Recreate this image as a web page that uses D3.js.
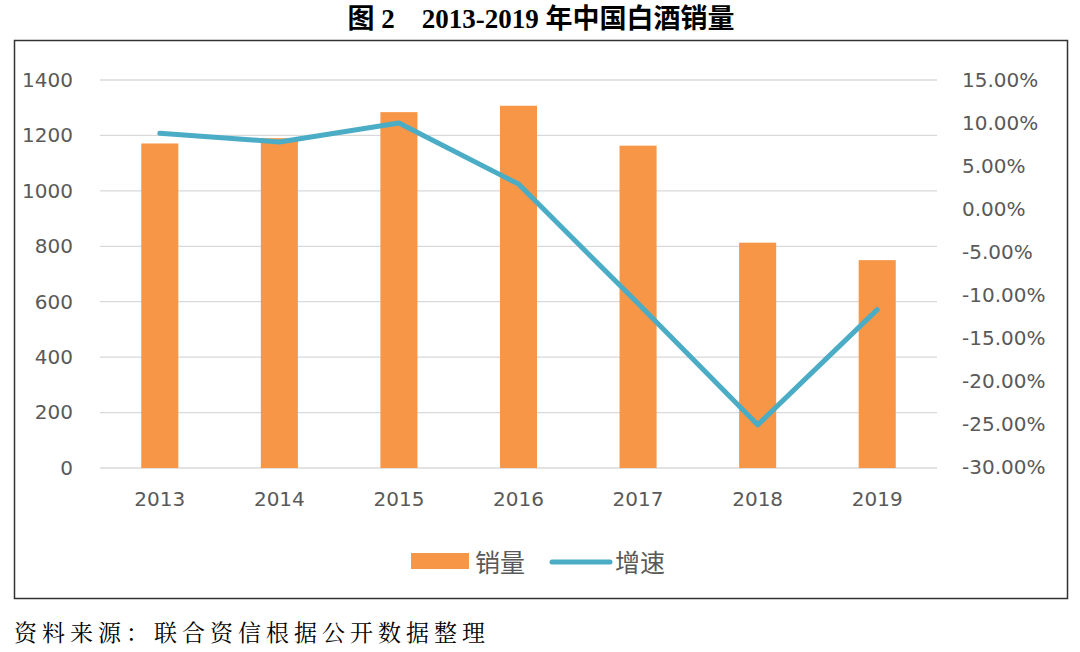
<!DOCTYPE html>
<html>
<head>
<meta charset="utf-8">
<script src="https://cdn.jsdelivr.net/npm/d3@7"></script>
<style>
  html, body { margin: 0; padding: 0; background: #fff; }
  svg { display: block; }
</style>
</head>
<body>
<div id="chart"></div>
<script>
// 2013-2019 中国白酒销量 — bars (销量) + line (增速, right axis)

const years = ["2013", "2014", "2015", "2016", "2017", "2018", "2019"];
const sales = [1171, 1190, 1284, 1307, 1163, 813, 750];
const growth = [8.8, 7.8, 10.0, 2.9, -11.0, -25.1, -11.7];   // %
const leftTicks = [0, 200, 400, 600, 800, 1000, 1200, 1400];
const rightTicks = [15, 10, 5, 0, -5, -10, -15, -20, -25, -30];

const W = 1080, H = 652;
const plot = { left: 100, right: 937, top: 80, bottom: 468 };

const barColor = '#F79646';
const lineColor = '#4BACC6';
const textGray = '#595959';
const numFont = '"DejaVu Sans", "Open Sans", sans-serif';
const cjkFont = '"Noto Sans CJK SC", sans-serif';

const svg = d3.select('#chart').append('svg')
  .attr('width', W).attr('height', H);

// Title
svg.append('text')
  .attr('x', 541).attr('y', 28)
  .attr('text-anchor', 'middle')
  .attr('font-family', '"Liberation Serif", "Noto Sans CJK SC", serif')
  .attr('font-weight', 'bold').attr('font-size', 27)
  .attr('fill', '#000')
  .text('图 2\u30002013-2019 年中国白酒销量');

// Frame
svg.append('rect')
  .attr('x', 14.5).attr('y', 40.5).attr('width', 1053).attr('height', 558)
  .attr('fill', 'none').attr('stroke', '#333').attr('stroke-width', 1.5);

const x = d3.scaleBand().domain(years)
  .range([plot.left, plot.right]).paddingInner(0.69).paddingOuter(0.345);
const yL = d3.scaleLinear().domain([0, 1400]).range([plot.bottom, plot.top]);
const yR = d3.scaleLinear().domain([-30, 15]).range([plot.bottom - 1, plot.top]);

// Gridlines
svg.append('g').selectAll('line').data(leftTicks).join('line')
  .attr('x1', plot.left).attr('x2', plot.right)
  .attr('y1', d => yL(d)).attr('y2', d => yL(d))
  .attr('stroke', '#D9D9D9').attr('stroke-width', 1.3);

// Left axis
const axL = svg.append('g')
  .attr('transform', `translate(${plot.left - 27},0)`)
  .call(d3.axisLeft(yL).tickValues(leftTicks).tickSize(0).tickPadding(0)
    .tickFormat(d3.format('d')));
axL.select('.domain').remove();
axL.selectAll('text')
  .attr('font-family', numFont).attr('font-size', 20).attr('fill', textGray);

// Right axis
const axR = svg.append('g')
  .attr('transform', `translate(${plot.right + 25},0)`)
  .call(d3.axisRight(yR).tickValues(rightTicks).tickSize(0).tickPadding(0)
    .tickFormat(d => d.toFixed(2) + '%'));
axR.select('.domain').remove();
axR.selectAll('text')
  .attr('font-family', numFont).attr('font-size', 20).attr('fill', textGray);

// Bottom axis labels
const axB = svg.append('g')
  .attr('transform', `translate(0,${plot.bottom + 24})`)
  .call(d3.axisBottom(x).tickSize(0).tickPadding(0));
axB.select('.domain').remove();
axB.selectAll('text')
  .attr('font-family', numFont).attr('font-size', 20).attr('fill', textGray);

// Bars
svg.append('g').selectAll('rect').data(years).join('rect')
  .attr('x', d => x(d))
  .attr('y', (d, i) => yL(sales[i]))
  .attr('width', x.bandwidth())
  .attr('height', (d, i) => yL(0) - yL(sales[i]))
  .attr('fill', barColor);

// Growth line
const line = d3.line()
  .x((d, i) => x(years[i]) + x.bandwidth() / 2)
  .y(d => yR(d));
svg.append('path').datum(growth)
  .attr('d', line)
  .attr('fill', 'none').attr('stroke', lineColor)
  .attr('stroke-width', 5).attr('stroke-linejoin', 'round').attr('stroke-linecap', 'round');

// Legend
const lg = svg.append('g');
lg.append('rect').attr('x', 411).attr('y', 553).attr('width', 58).attr('height', 16)
  .attr('fill', barColor);
lg.append('text').attr('x', 475).attr('y', 572)
  .attr('font-family', cjkFont).attr('font-size', 25).attr('fill', textGray)
  .text('销量');
lg.append('line').attr('x1', 552).attr('x2', 610).attr('y1', 562).attr('y2', 562)
  .attr('stroke', lineColor).attr('stroke-width', 5).attr('stroke-linecap', 'round');
lg.append('text').attr('x', 615).attr('y', 572)
  .attr('font-family', cjkFont).attr('font-size', 25).attr('fill', textGray)
  .text('增速');

// Source note
svg.append('text')
  .attr('x', 14).attr('y', 641)
  .attr('font-family', '"Noto Serif CJK SC", "Noto Sans CJK SC", serif')
  .attr('font-size', 23).attr('letter-spacing', 5).attr('fill', '#000')
  .text('资料来源：联合资信根据公开数据整理');
</script>
</body>
</html>
